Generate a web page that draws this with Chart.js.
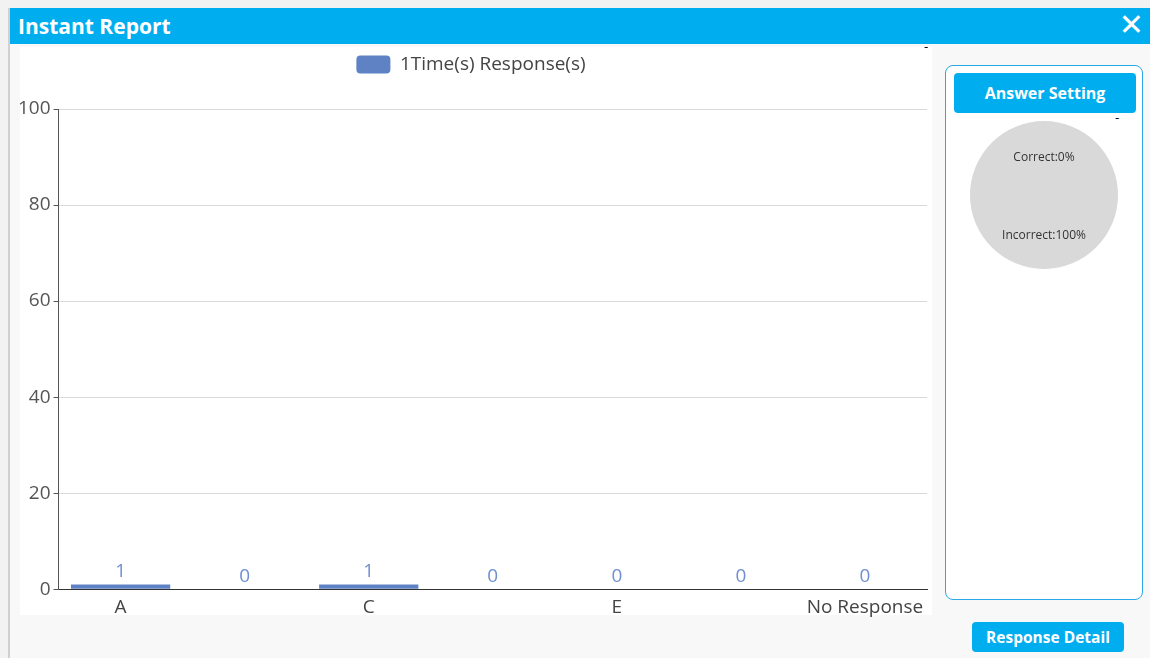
<!DOCTYPE html>
<html>
<head>
<meta charset="utf-8">
<script src="https://cdn.jsdelivr.net/npm/chart.js@4"></script>
<style>
  html, body { margin: 0; padding: 0; background: #f2f2f2; width: 1150px; height: 658px; overflow: hidden; font-family: "Open Sans", sans-serif; }
  #win { position: absolute; left: 8px; top: 8px; width: 1142px; height: 650px; background: #f8f8f8; border-left: 2px solid #d0d0d0; box-sizing: border-box; }
  #head { position: absolute; left: 0; top: 0; width: 100%; height: 36px; background: #00aeef; }
  #head .title { position: absolute; left: 8px; top: 4px; color: #fff; font: bold 21px "Open Sans", sans-serif; }
  #head .close { position: absolute; right: 6px; top: 2px; color: #fff; font: 30px "DejaVu Sans", sans-serif; line-height: 30px; }
  #barBox { position: absolute; left: 10px; top: 39px; width: 912px; height: 568px; background: #fff; }
  #barInner { position: absolute; left: -5px; top: 0; width: 914px; height: 571px; }
  #side { position: absolute; left: 935px; top: 57px; width: 198px; height: 535px; border: 1px solid #2aa9e8; border-radius: 8px; background: #fff; box-sizing: border-box; }
  .btn { position: absolute; background: #00aeef; color: #fff; font: bold 16px "Open Sans", sans-serif; text-align: center; border-radius: 4px; }
  #ans { left: 8px; top: 7px; width: 182px; height: 40px; line-height: 40px; }
  #pieBox { position: absolute; left: 24px; top: 55px; width: 148px; height: 148px; }
  #detail { left: 962px; top: 614px; width: 152px; height: 30px; line-height: 30px; font-size: 15.5px; }
  .dash { position: absolute; font: 12px "DejaVu Sans", sans-serif; color: #000; }
</style>
</head>
<body>
<div id="win">
  <div id="head"><div class="title">Instant Report</div><div class="close">✕</div></div>
  <div id="barBox"><div id="barInner"><canvas id="bar"></canvas></div></div>
  <div class="dash" style="left:914px; top:32px;">-</div>
  <div id="side">
    <div class="btn" id="ans">Answer Setting</div>
    <div class="dash" style="left:169px; top:45px;">-</div>
    <div id="pieBox"><canvas id="pie"></canvas></div>
  </div>
  <div class="btn" id="detail">Response Detail</div>
</div>
<script>
var categories = ['A', 'B', 'C', 'D', 'E', 'F', 'No Response'];
var responses = [1, 0, 1, 0, 0, 0, 0];
var seriesName = '1Time(s) Response(s)';
var yTicks = { min: 0, max: 100, step: 20 };

var pieLabels = ['Correct', 'Incorrect'];
var pieValues = [0, 100];

// value labels above each bar
var barValues = {
  id: 'barValues',
  afterDatasetsDraw: function(chart) {
    var ctx = chart.ctx;
    var meta = chart.getDatasetMeta(0);
    ctx.save();
    ctx.font = '19px "Open Sans", sans-serif';
    ctx.fillStyle = '#6f8fd0';
    ctx.textAlign = 'center';
    ctx.textBaseline = 'alphabetic';
    meta.data.forEach(function(bar, i) {
      var v = chart.data.datasets[0].data[i];
      ctx.fillText(v, bar.x, bar.y - 7);
    });
    ctx.restore();
  }
};

// more room under the legend
var legendGap = {
  id: 'legendGap',
  beforeInit: function(chart) {
    var fit = chart.legend.fit;
    chart.legend.fit = function() {
      fit.bind(chart.legend)();
      this.height += 25;
    };
  }
};

var pieText = {
  id: 'pieText',
  afterDatasetsDraw: function(chart) {
    var ctx = chart.ctx;
    var meta = chart.getDatasetMeta(0);
    var total = pieValues.reduce(function(a, b) { return a + b; }, 0);
    ctx.save();
    ctx.font = '12px "Open Sans", sans-serif';
    ctx.fillStyle = '#333';
    ctx.textAlign = 'center';
    ctx.textBaseline = 'middle';
    meta.data.forEach(function(arc, i) {
      var mid = (arc.startAngle + arc.endAngle) / 2;
      var r = arc.outerRadius * 0.53;
      var pct = Math.round(pieValues[i] / total * 100);
      ctx.fillText(pieLabels[i] + ':' + pct + '%', arc.x + Math.cos(mid) * r, arc.y + Math.sin(mid) * r + 1.5);
    });
    ctx.restore();
  }
};

new Chart(document.getElementById('bar'), {
  type: 'bar',
  data: {
    labels: categories,
    datasets: [{
      label: seriesName,
      data: responses,
      backgroundColor: '#5f82c4',
      categoryPercentage: 0.8,
      barPercentage: 1.0
    }]
  },
  options: {
    responsive: true,
    maintainAspectRatio: false,
    animation: false,
    layout: { padding: { left: 0, right: 2, top: 0, bottom: 0 } },
    plugins: {
      legend: {
        labels: {
          font: { size: 19, family: '"Open Sans", sans-serif' },
          color: '#444',
          boxWidth: 34,
          boxHeight: 18,
          padding: 8,
          useBorderRadius: true,
          borderRadius: 4
        }
      },
      tooltip: { enabled: false }
    },
    scales: {
      x: {
        grid: { display: false },
        border: { color: '#333', width: 1 },
        ticks: {
          autoSkip: false,
          maxRotation: 0,
          color: '#444',
          font: { size: 19, family: '"Open Sans", sans-serif' },
          padding: -1,
          callback: function(v, i) { return i % 2 === 0 ? categories[i] : ''; }
        }
      },
      y: {
        min: yTicks.min,
        max: yTicks.max,
        grid: { color: '#d9d9d9', tickColor: '#555', tickLength: 5 },
        border: { color: '#555', width: 1 },
        ticks: {
          stepSize: yTicks.step,
          color: '#555',
          font: { size: 19, family: '"Open Sans", sans-serif' },
          padding: 3
        }
      }
    }
  },
  plugins: [barValues, legendGap]
});

new Chart(document.getElementById('pie'), {
  type: 'pie',
  data: {
    labels: pieLabels,
    datasets: [{ data: pieValues, backgroundColor: ['#d9d9d9', '#d9d9d9'], borderWidth: 0 }]
  },
  options: {
    responsive: true,
    maintainAspectRatio: false,
    animation: false,
    plugins: { legend: { display: false }, tooltip: { enabled: false } }
  },
  plugins: [pieText]
});
</script>
</body>
</html>
